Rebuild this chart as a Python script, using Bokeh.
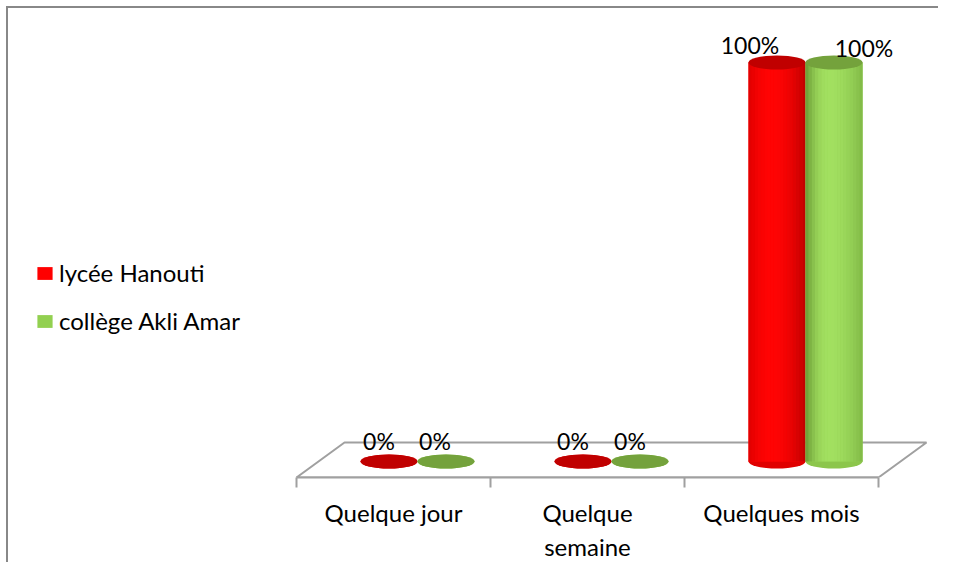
import math
from bokeh.plotting import figure
from bokeh.models import (Range1d, FixedTicker, CustomJSTickFormatter, Legend,
                          LegendItem, ColumnDataSource)
from bokeh.core.properties import value
from bokeh.embed import file_html
from bokeh.resources import INLINE

# ---------------- data ----------------
categories = ["Quelque jour", "Quelque semaine", "Quelques mois"]
tick_labels = ["Quelque jour", "Quelque\nsemaine", "Quelques mois"]
series_names = ["lycée Hanouti", "collège Akli Amar"]
lycee_hanouti = [0.0, 0.0, 1.0]
college_akli_amar = [0.0, 0.0, 1.0]
series_values = [lycee_hanouti, college_akli_amar]

# ---------------- style / layout ----------------
FONT = "Lato"
MARGIN = 6
BORDER = 2
W, H = 932, 556
PAGE0 = MARGIN + BORDER            # page coordinate of canvas origin
AXIS_LEFT_PAGE = 296               # page x where first category starts
FLOOR_FRONT_PAGE = 477             # page y of the floor front edge / axis line
PX_CAT = 194.0                     # pixels per category
PX_UNIT = 399.0                    # pixels for 100 %
frame_h = FLOOR_FRONT_PAGE - PAGE0

DEPTH_X, DEPTH_Y = 48 / PX_CAT, 35 / PX_UNIT      # floor depth
PLANE_DX, PLANE_DY = 24 / PX_CAT, 16 / PX_UNIT    # bar plane inside the floor
BAR_W = 57 / PX_CAT
SERIES_OFF = [-28.5 / PX_CAT, 28.5 / PX_CAT]
ELL_H = 14

body_palettes = [
    ((0xde, 0x00, 0x00), (0xff, 0x04, 0x04), (0xbc, 0x00, 0x00)),
    ((0x68, 0x98, 0x34), (0xa2, 0xe0, 0x60), (0x80, 0xb8, 0x46)),
]
base_colors = ["#ff0000", "#92d050"]
bottom_colors = ["#e00000", "#8cc64c"]
top_colors = ["#c00000", "#74a23c"]
label_dx = [[-10, -10, -27], [-11, -10, 30]]
label_up = [21, 21, 18], [21, 21, 15]
N_STRIPS = 18


def hexc(c):
    return "#%02x%02x%02x" % tuple(int(round(max(0, min(255, v)))) for v in c)


def lerp(a, b, k):
    return tuple(a[j] + (b[j] - a[j]) * k for j in range(3))


def shade(pal, t):
    left, hi, right = pal
    if t < 0.4:
        u = t / 0.4
        return lerp(left, hi, 1 - (1 - u) ** 2)
    u = (t - 0.4) / 0.6
    return lerp(hi, right, u ** 2)


n = len(categories)
x_start = -(AXIS_LEFT_PAGE - PAGE0) / PX_CAT
p = figure(width=W, height=H, output_backend="svg", toolbar_location=None,
           x_range=Range1d(x_start, x_start + W / PX_CAT),
           y_range=Range1d(0, frame_h / PX_UNIT),
           y_axis_location=None,
           min_border_left=0, min_border_right=0, min_border_top=0,
           min_border_bottom=H - frame_h)
p.xgrid.visible = False
p.ygrid.visible = False
p.outline_line_color = None
p.background_fill_color = "white"
p.border_fill_color = "white"
p.styles = {"margin-top": "%dpx" % MARGIN, "margin-left": "%dpx" % MARGIN,
            "border-top": "%dpx solid #888888" % BORDER,
            "border-left": "%dpx solid #888888" % BORDER}

# floor
p.patch([0, n, n + DEPTH_X, DEPTH_X], [0, 0, DEPTH_Y, DEPTH_Y],
        fill_color="white", line_color="#a0a0a0", line_width=2)

legend_items = []
for s, vals in enumerate(series_values):
    xc = [i + 0.5 + PLANE_DX + SERIES_OFF[s] for i in range(n)]
    tops = [v + PLANE_DY for v in vals]
    # bottom rounded end
    p.ellipse(x=xc, y=[PLANE_DY] * n, width=BAR_W, height=ELL_H,
              height_units="screen", fill_color=bottom_colors[s], line_color=None)
    base = p.vbar(x=xc, width=BAR_W, bottom=PLANE_DY, top=tops,
                  fill_color=base_colors[s], line_color=None)
    legend_items.append(LegendItem(label=series_names[s], renderers=[base]))
    # cylinder shading strips
    lefts, rights, bots, tps, cols = [], [], [], [], []
    for i, v in enumerate(vals):
        if v <= 0:
            continue
        x0 = xc[i] - BAR_W / 2
        for k in range(N_STRIPS):
            lefts.append(x0 + BAR_W * k / N_STRIPS)
            rights.append(x0 + BAR_W * (k + 1) / N_STRIPS + 0.0008)
            bots.append(PLANE_DY)
            tps.append(tops[i])
            cols.append(hexc(shade(body_palettes[s], (k + 0.5) / N_STRIPS)))
    if lefts:
        p.quad(left=lefts, right=rights, bottom=bots, top=tps,
               fill_color=cols, line_color=None)
    # top cap
    p.ellipse(x=xc, y=tops, width=BAR_W, height=ELL_H, height_units="screen",
              fill_color=top_colors[s], line_color=None)
    # data labels
    src = ColumnDataSource(dict(
        x=xc, y=tops, text=["%d%%" % round(v * 100) for v in vals],
        xo=label_dx[s], yo=[-u for u in label_up[s]]))
    p.text(x="x", y="y", text="text", x_offset="xo", y_offset="yo", source=src,
           text_font=value(FONT), text_font_size="23px", text_color="black",
           text_align="center", text_baseline="middle")

ax = p.xaxis[0]
ax.ticker = FixedTicker(ticks=[i + 0.5 for i in range(n)],
                        minor_ticks=list(range(n + 1)))
ax.formatter = CustomJSTickFormatter(args=dict(labels=tick_labels),
                                     code="return labels[Math.floor(tick)];")
ax.bounds = (0, n)
ax.axis_line_color = "#a0a0a0"
ax.axis_line_width = 2
ax.major_tick_line_color = None
ax.major_tick_out = 0
ax.major_tick_in = 0
ax.minor_tick_line_color = "#a0a0a0"
ax.minor_tick_line_width = 2
ax.minor_tick_out = 10
ax.minor_tick_in = 0
ax.major_label_standoff = 10
ax.major_label_text_font = FONT
ax.major_label_text_font_size = "24px"
ax.major_label_text_color = "black"

# legend: glyph area is drawn at 80 %, so enlarge it a bit
legend = Legend(items=legend_items, location=(35 - PAGE0, FLOOR_FRONT_PAGE - 335),
                glyph_width=19, glyph_height=16, label_standoff=5,
                spacing=19, padding=0, margin=0,
                border_line_color=None, background_fill_alpha=0,
                label_text_font=FONT, label_text_font_size="24px",
                label_text_color="black")
p.add_layout(legend)

open("out.html", "w").write(file_html(p, INLINE))
